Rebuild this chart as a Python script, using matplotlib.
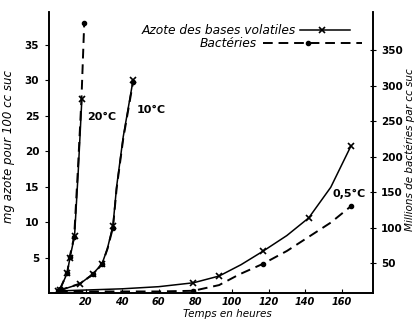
import numpy as np
import matplotlib
matplotlib.use("Agg")
import matplotlib.pyplot as plt

# --- data ---
# 20 degC
t20_az = [6, 10, 11.5, 14, 16, 18]
n20_az = [0.5, 2.8, 5.0, 8.0, 17.0, 27.3]
t20_bac = [6, 10, 11.3, 13.8, 15.8, 17.8, 19.3]
b20_bac = [13, 36, 58, 87, 180, 282, 388]

# 10 degC
t10_az = [5, 17, 24, 29, 32, 35, 37, 40.6, 46]
n10_az = [0.3, 1.3, 2.7, 4.1, 6.3, 9.5, 15.0, 22.0, 30.0]
t10_bac = [5, 17, 24, 29, 32, 35, 37, 40.6, 46]
b10_bac = [11, 21, 34, 48, 70, 100, 155, 225, 305]

# 0.5 degC
t05_az = [5, 40, 60, 79, 93, 105, 117, 130, 142, 154, 165]
n05_az = [0.3, 0.6, 0.9, 1.45, 2.4, 4.0, 5.9, 8.1, 10.6, 14.9, 20.7]
t05_bac = [5, 40, 60, 79, 93, 104, 117, 130, 142, 154, 165]
b05_bac = [10, 10, 10, 11, 19, 34, 49, 67, 87, 107, 130]

# measured points (indices) carrying markers
mk20_az = [0, 1, 2, 3, 5]
mk20_bac = [0, 1, 2, 3, 6]
mk10_az = [0, 1, 2, 3, 5, 8]
mk10_bac = [0, 2, 3, 5, 8]
mk05_az = [3, 4, 6, 8, 10]
mk05_bac = [3, 6, 10]

xticks = [20, 40, 60, 80, 100, 120, 140, 160]
lticks = [5, 10, 15, 20, 25, 30, 35]
rticks = [50, 100, 150, 200, 250, 300, 350]

plt.rcParams['font.family'] = ['DejaVu Sans']

fig = plt.figure(figsize=(4.18, 3.21), dpi=100)
ax = fig.add_axes([0.117, 0.087, 0.775, 0.876])
ax2 = ax.twinx()

sol = dict(color="black", lw=1.1, ls="-", marker="x", ms=4, mew=1.2)
das = dict(color="black", lw=1.4, ls=(0, (5, 3)), marker="o", ms=3)

ax.plot(t20_az, n20_az, markevery=mk20_az, **sol)
ax.plot(t10_az, n10_az, markevery=mk10_az, **sol)
ax.plot(t05_az, n05_az, markevery=mk05_az, **sol)
ax2.plot(t20_bac, b20_bac, markevery=mk20_bac, **das)
ax2.plot(t10_bac, b10_bac, markevery=mk10_bac, **das)
ax2.plot(t05_bac, b05_bac, markevery=mk05_bac, **das)

ax.set_xlim(0, 177)
ax.set_ylim(0, 39.6)
ax2.set_ylim(7.75, 403.75)

for a in (ax, ax2):
    a.spines["top"].set_visible(False)
    for s in a.spines.values():
        s.set_linewidth(1.2)

ax.set_xticks(xticks)
ax.set_xticklabels([str(v) for v in xticks], fontsize=7, style="italic", weight="bold")
ax.tick_params(axis="x", direction="in", length=3, pad=3)
ax.set_yticks(lticks)
ax.set_yticklabels([str(v) for v in lticks], fontsize=7.5, weight="bold")
ax.tick_params(axis="y", direction="out", length=3, pad=4)
ax2.set_yticks(rticks)
ax2.set_yticklabels([str(v) for v in rticks], fontsize=7.5, weight="bold")
ax2.tick_params(axis="y", direction="inout", length=4, pad=4)

ax.set_xlabel("Temps en heures", fontsize=7.5, style="italic")
ax.xaxis.set_label_coords(0.55, -0.058)
ax.set_ylabel("mg azote pour 100 cc suc", fontsize=8.5, style="italic")
ax.yaxis.set_label_coords(-0.105, 0.52)
ax2.set_ylabel("Millions de bactéries par cc suc", fontsize=7.5, style="italic",
               rotation=90)
ax2.yaxis.set_label_coords(1.098, 0.51)

ax.text(21, 24.8, "20°C", fontsize=8, weight="bold", va="center")
ax.text(48, 25.8, "10°C", fontsize=8, weight="bold", va="center")
ax.text(155, 14, "0,5°C", fontsize=8, weight="bold", va="center")

# hand-drawn key at top
tr = ax.transAxes
ax.text(0.763, 0.935, "Azote des bases volatiles", transform=tr, fontsize=8.8,
        style="italic", ha="right", va="center")
ax.plot([0.775, 0.93], [0.935, 0.935], transform=tr, color="black", lw=1.1)
ax.plot([0.843], [0.935], transform=tr, color="black", marker="x", ms=4, mew=1.2)
ax.text(0.643, 0.888, "Bactéries", transform=tr, fontsize=8.8,
        style="italic", ha="right", va="center")
ax.plot([0.66, 0.965], [0.888, 0.888], transform=tr, color="black", lw=1.4,
        ls=(0, (5, 3)), clip_on=False)
ax.plot([0.80], [0.888], transform=tr, color="black", marker="o", ms=3)

fig.savefig("out.png", dpi=100)
